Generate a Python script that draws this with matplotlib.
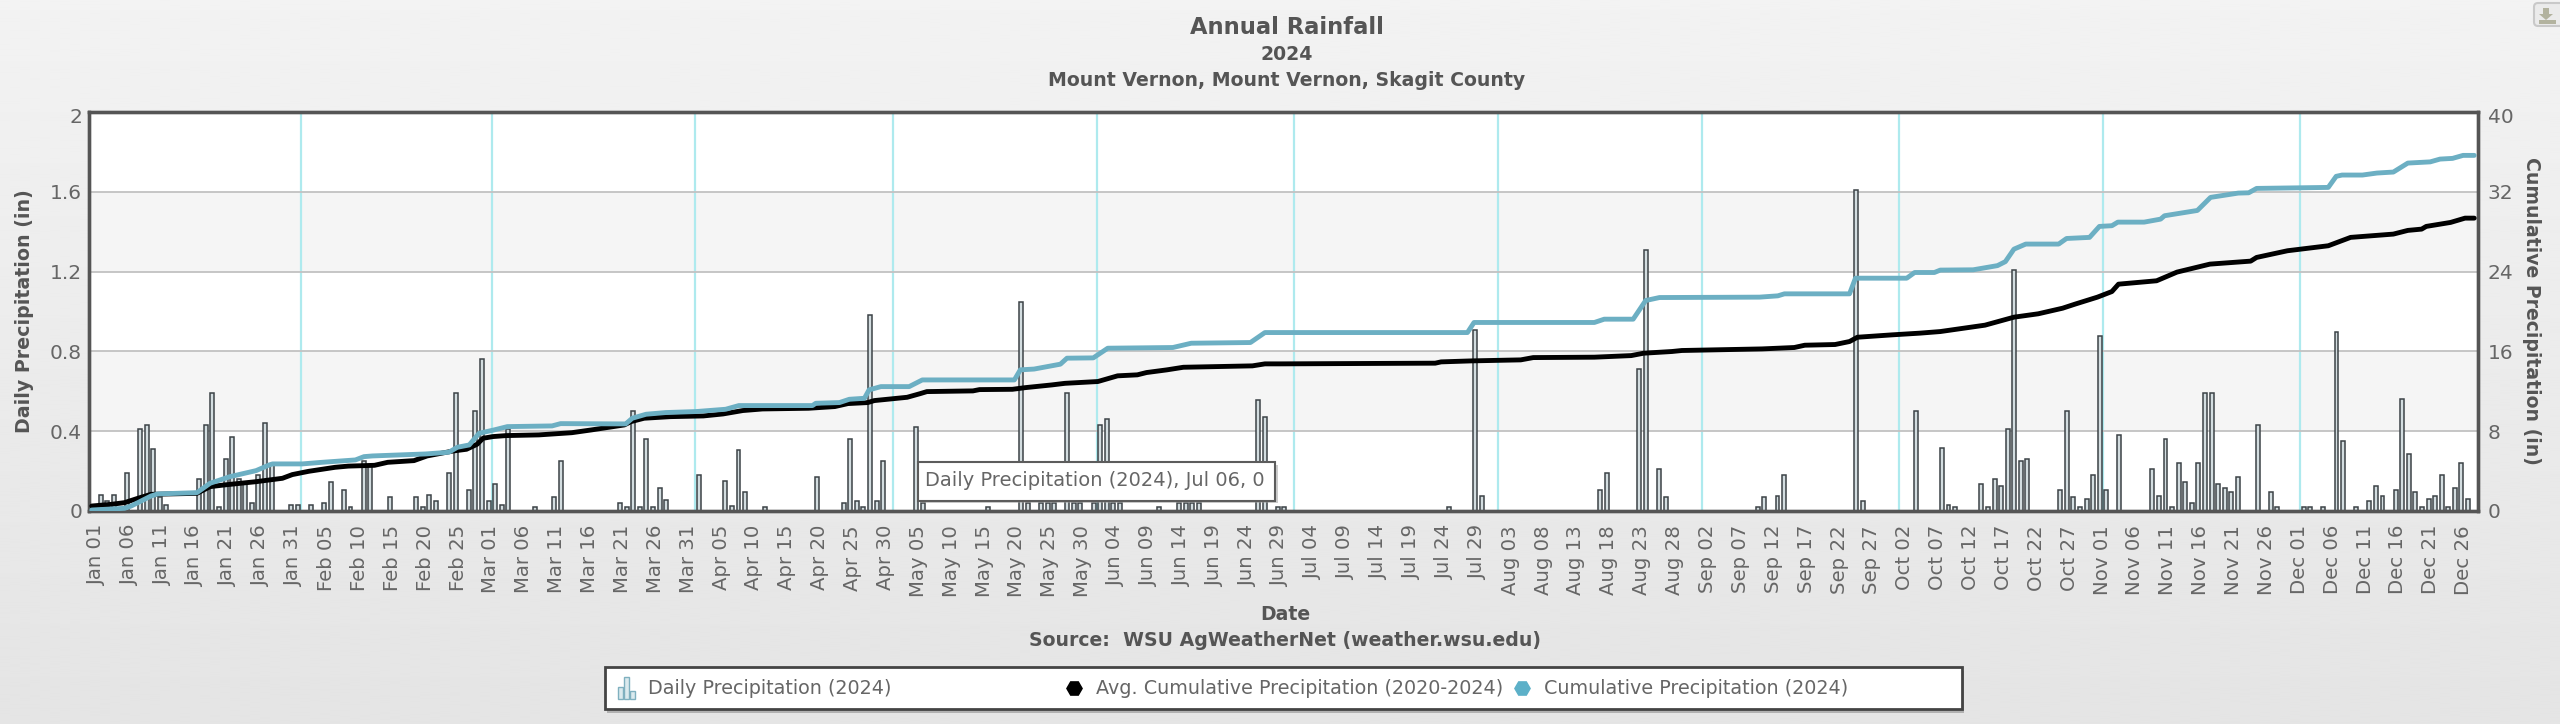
"""Annual rainfall chart, Mount Vernon 2024 (daily bars + cumulative lines)."""

import numpy as np
import matplotlib
matplotlib.use("Agg")
import matplotlib.pyplot as plt
from matplotlib.patches import Rectangle, FancyBboxPatch, Polygon
from matplotlib.transforms import ScaledTranslation

# tick labels, one every 5 days starting Jan 01
tick_labels = [
    "Jan 01", "Jan 06", "Jan 11", "Jan 16", "Jan 21", "Jan 26", "Jan 31",
    "Feb 05", "Feb 10", "Feb 15", "Feb 20", "Feb 25",
    "Mar 01", "Mar 06", "Mar 11", "Mar 16", "Mar 21", "Mar 26", "Mar 31",
    "Apr 05", "Apr 10", "Apr 15", "Apr 20", "Apr 25", "Apr 30",
    "May 05", "May 10", "May 15", "May 20", "May 25", "May 30",
    "Jun 04", "Jun 09", "Jun 14", "Jun 19", "Jun 24", "Jun 29",
    "Jul 04", "Jul 09", "Jul 14", "Jul 19", "Jul 24", "Jul 29",
    "Aug 03", "Aug 08", "Aug 13", "Aug 18", "Aug 23", "Aug 28",
    "Sep 02", "Sep 07", "Sep 12", "Sep 17", "Sep 22", "Sep 27",
    "Oct 02", "Oct 07", "Oct 12", "Oct 17", "Oct 22", "Oct 27",
    "Nov 01", "Nov 06", "Nov 11", "Nov 16", "Nov 21", "Nov 26",
    "Dec 01", "Dec 06", "Dec 11", "Dec 16", "Dec 21", "Dec 26",
]

# first of each month, as day of year (0 = Jan 01)
month_starts = [31, 60, 91, 121, 152, 182, 213, 244, 274, 305, 335]

# daily precipitation: only the days with rain
rain_days = [
    0, 1, 2, 4, 6, 7, 8, 9, 10, 15, 16, 17, 18, 19, 20, 21, 22, 23, 24, 25, 26,
    29, 30, 32, 34, 35, 37, 38, 40, 41, 44, 48, 49, 50, 51, 53, 54, 56, 57, 58,
    59, 60, 61, 62, 66, 69, 70, 79, 80, 81, 82, 83, 84, 85, 86, 91, 95, 96, 97,
    98, 101, 109, 113, 114, 115, 116, 117, 118, 119, 124, 125, 135, 140, 141,
    143, 144, 145, 147, 148, 149, 151, 152, 153, 154, 155, 161, 164, 165, 166,
    167, 176, 177, 179, 180, 205, 209, 210, 228, 229, 234, 235, 237, 238, 252,
    253, 255, 256, 267, 268, 276, 280, 281, 282, 286, 287, 288, 289, 290, 291,
    292, 293, 298, 299, 300, 301, 302, 303, 304, 305, 307, 312, 313, 314, 315,
    316, 317, 318, 319, 320, 321, 322, 323, 324, 325, 328, 330, 331, 335, 336,
    338, 340, 341, 343, 345, 346, 347, 349, 350, 351, 352, 353, 354, 355, 356,
    357, 358, 359, 360,
]
rain_inches = [
    .08, .05, .08, .19, .41, .43, .31, .07, .03, .16, .43, .59, .02, .26, .37, .16, .135, .04, .18, .44, .23,
    .03, .03, .03, .04, .144, .105, .02, .25, .23, .07, .07, .02, .08, .05, .19, .59, .105, .50, .76,
    .05, .134, .03, .41, .02, .07, .25, .04, .02, .50, .02, .36, .02, .115, .057, .18, .15, .027, .305,
    .097, .02, .17, .04, .36, .05, .02, .98, .05, .25, .42, .04, .02, 1.05, .04,
    .04, .04, .04, .59, .04, .04, .04, .43, .46, .04, .04, .02, .04, .04, .04,
    .04, .555, .47, .02, .02, .02, .907, .077, .105, .19, .71, 1.31, .21, .07, .02,
    .07, .077, .18, 1.61, .05, .50, .315, .03, .02, .135, .02, .16, .125, .41, 1.21,
    .25, .26, .105, .50, .07, .02, .06, .18, .877, .105, .38, .21, .077, .36, .02,
    .24, .144, .04, .24, .59, .59, .135, .115, .097, .17, .43, .097, .02, .02, .02,
    .02, .897, .353, .02, .05, .125, .077, .105, .56, .286, .097, .02, .06, .077, .18,
    .02, .115, .24, .06,
]

# 5-year average cumulative precipitation, read at its bends
avg_days = [
    0, 3, 5, 7, 9, 16, 18, 20, 25, 29, 30.5, 33, 37, 39, 43, 45, 49, 51, 55, 57,
    58.6, 59.5, 61, 63, 68, 73, 76, 81, 82, 84, 88, 93, 96, 99, 102, 109, 113,
    115, 118, 119, 124, 126, 127, 134, 135, 140, 142, 146, 148, 153, 156, 159,
    160.4, 163.5, 166, 176.5, 178.4, 180.7, 204.3, 205.2, 209.9, 217.3, 219.2,
    228.5, 234.1, 236, 240.3, 241.8, 254, 258.9, 260.5, 265.1, 267.3, 268.5,
    273.8, 278, 281.1, 287.9, 292.3, 296, 299.7, 301.6, 305, 307.2, 308.2, 314,
    317.1, 322.1, 328.3, 329.2, 333.9, 340.1, 343.5, 350, 352.2, 354.3, 355,
    358.7, 360.9, 362.3,
]
avg_cumulative = [
    .5, .67, .84, 1.27, 1.67, 1.77, 2.44, 2.6, 2.94, 3.28, 3.65, 3.98, 4.38, 4.5, 4.58, 4.88, 5.05, 5.52, 6.02, 6.19,
    6.69, 7.29, 7.46, 7.56, 7.63, 7.85, 8.13, 8.63, 8.96, 9.30, 9.46, 9.53, 9.73, 10.07, 10.23, 10.3, 10.47,
    10.77, 10.87, 11.07, 11.4, 11.77, 11.97, 12.04, 12.17, 12.2, 12.37, 12.64, 12.8, 12.98, 13.55, 13.65,
    13.88, 14.15, 14.41, 14.55, 14.75, 14.75, 14.82, 14.95, 15.05, 15.15, 15.38,
    15.42, 15.58, 15.82, 15.99, 16.09, 16.25, 16.39, 16.62, 16.69, 16.99, 17.42,
    17.66, 17.83, 17.99, 18.63, 19.43, 19.77, 20.33, 20.74, 21.44, 22.0, 22.74, 23.08,
    23.95, 24.75, 25.05, 25.42, 26.09, 26.59, 27.43, 27.76, 28.13, 28.26, 28.53,
    28.93, 29.36, 29.36,
]

# 2024 cumulative precipitation, read at its bends
cum_days = [
    0, 5, 6, 9, 10, 16, 18, 21, 25, 27, 27.5, 32, 35, 40.1, 41.4, 42.7, 50.8, 54.3,
    55.6, 57.4, 58.9, 61.2, 63.2, 70, 71.3, 81.2, 82.2, 84.3, 87.3, 91.9, 96.4,
    98.4, 109.6, 110.1, 113.7, 115.2, 117.5, 118.2, 120, 124.3, 126.3, 140.3, 141.2,
    143.3, 147.3, 148.3, 152.3, 154.5, 164.4, 167.2, 176.2, 178.4, 209.2, 210.2,
    228.5, 230, 234.4, 236.3, 238.4, 253.6, 256.4, 257.4, 267.3, 268.2, 276, 277.2,
    280.2, 281.1, 286.1, 289.8, 291, 292.3, 294.1, 299.1, 300.3, 303.8, 305.3,
    307.2, 308.1, 312.1, 314.6, 315.2, 320.2, 322.2, 326.4, 328, 329.2, 340.1,
    341.3, 342.2, 345.3, 347.5, 350, 352.2, 355.6, 357.1, 359, 360.6, 362.3,
]
cum_2024 = [
    .1, .27, .5, 1.5, 1.71, 1.84, 2.78, 3.44, 4.05, 4.62, 4.72, 4.72, 4.88, 5.12, 5.45, 5.52, 5.72, 5.89,
    6.39, 6.62, 7.79, 8.13, 8.46, 8.53, 8.76, 8.73, 9.3, 9.7, 9.87, 9.97, 10.2,
    10.57, 10.57, 10.8, 10.87, 11.2, 11.3, 12.14, 12.47, 12.47, 13.14, 13.14, 14.15,
    14.23, 14.72, 15.32, 15.35, 16.32, 16.39, 16.82, 16.89, 17.89, 17.89, 18.9,
    18.9, 19.23, 19.23, 21.1, 21.4, 21.44, 21.57, 21.77, 21.77, 23.34, 23.34, 23.91,
    23.91, 24.15, 24.18, 24.6, 25.0, 26.25, 26.76, 26.76, 27.32, 27.43, 28.53,
    28.6, 28.96, 28.96, 29.26, 29.6, 30.13, 31.44, 31.87, 31.9, 32.34, 32.44,
    33.55, 33.68, 33.68, 33.88, 33.98, 34.88, 35.0, 35.28, 35.35, 35.65, 35.65,
]

W, H = 2560, 724
TEXT = "#666666"
HEAD = "#555555"
BLUE = "#6cafc3"

fig = plt.figure(figsize=(W / 100, H / 100), dpi=100)

# page background: soft vertical gradient
bg = fig.add_axes([0, 0, 1, 1], zorder=0)
bg.imshow(np.linspace(0.95, 0.895, 256).reshape(-1, 1), cmap="gray", vmin=0, vmax=1,
          aspect="auto", extent=[0, W, H, 0])
bg.set_xlim(0, W)
bg.set_ylim(H, 0)
bg.axis("off")

# plot area, pixel box 89..2478 x 112..511
ax = fig.add_axes([89 / W, 1 - 511 / H, (2478 - 89) / W, (511 - 112) / H], zorder=1)
ax.set_xlim(-1.217, 362.07)
ax.set_ylim(0, 2)
ax.set_facecolor("white")

# alternating bands
for lo in (0.4, 1.2):
    ax.axhspan(lo, lo + 0.4, facecolor="#f5f5f5", edgecolor="none", zorder=0)
ax.set_yticks([0, 0.4, 0.8, 1.2, 1.6, 2.0], ["0", "0.4", "0.8", "1.2", "1.6", "2"])
ax.grid(axis="y", color="#c2c2c2", linewidth=1.3, zorder=1)
for d in month_starts:
    ax.axvline(d, color="#aeeaee", linewidth=1.6, zorder=1)

# bars sit a little right of the day slot, lines a little left (as in the original)
ax.bar(np.array(rain_days) + 0.55, rain_inches, width=0.6, facecolor="#d3dde0",
       edgecolor="#3c4347", linewidth=1.1, zorder=2)

ax2 = ax.twinx()
ax2.set_ylim(0, 40)
ax2.set_yticks([0, 8, 16, 24, 32, 40])
ax2.plot(np.array(avg_days) - 0.8, avg_cumulative, color="black", linewidth=3.5,
         solid_capstyle="round", zorder=3)
ax2.plot(np.array(cum_days) - 0.8, cum_2024, color=BLUE, linewidth=3.5,
         solid_capstyle="round", zorder=4)

for a in (ax, ax2):
    for side in a.spines.values():
        side.set_color("#555555")
        side.set_linewidth(2.4)

ax.set_xticks(np.arange(len(tick_labels)) * 5 - 0.1, tick_labels, rotation=90,
              fontsize=14.2, color=TEXT)
ax.tick_params(axis="x", length=0, pad=10)
ax.tick_params(axis="y", length=0, pad=5, labelsize=14.5, labelcolor=TEXT)
ax2.tick_params(axis="y", length=0, pad=7, labelsize=14.5, labelcolor=TEXT)

# the top labels are pushed down a bit so they stay under the frame
nudge = ScaledTranslation(0, -3.5 / 72 * 0.72, fig.dpi_scale_trans)
for lab in (ax.get_yticklabels()[-1], ax2.get_yticklabels()[-1]):
    lab.set_transform(lab.get_transform() + nudge)

# overlay in pixel coordinates for titles, tooltip and legend
top = fig.add_axes([0, 0, 1, 1], zorder=5)
top.set_xlim(0, W)
top.set_ylim(H, 0)
top.axis("off")
top.patch.set_alpha(0)

top.text(1287, 27, "Annual Rainfall", ha="center", va="center", fontsize=16.3,
         fontweight="bold", color=HEAD)
top.text(1287, 55, "2024", ha="center", va="center", fontsize=13.6,
         fontweight="bold", color=HEAD)
top.text(1287, 81, "Mount Vernon, Mount Vernon, Skagit County", ha="center", va="center",
         fontsize=13.55, fontweight="bold", color=HEAD)
top.text(1285, 614, "Date", ha="center", va="center", fontsize=13.6,
         fontweight="bold", color=HEAD)
top.text(1285, 640, "Source:  WSU AgWeatherNet (weather.wsu.edu)", ha="center", va="center",
         fontsize=13.6, fontweight="bold", color=HEAD)
top.text(25, 311, "Daily Precipitation (in)", rotation=90, ha="center", va="center",
         fontsize=13.7, fontweight="bold", color=HEAD)
top.text(2531, 311, "Cumulative Precipitation (in)", rotation=270, ha="center", va="center",
         fontsize=13.6, fontweight="bold", color=HEAD)

# tooltip left on the screenshot
top.add_patch(Rectangle((921, 465), 357, 38, facecolor="#9a9a9a", alpha=0.5, edgecolor="none"))
top.add_patch(Rectangle((918, 462), 357, 38.5, facecolor="white", edgecolor="#5c5c5c", linewidth=1.5))
top.text(925, 481, "Daily Precipitation (2024), Jul 06, 0", ha="left", va="center",
         fontsize=14, color=TEXT)

# legend box
top.add_patch(Rectangle((607, 671), 1357, 42, facecolor="#8f8f8f", alpha=0.6, edgecolor="none"))
top.add_patch(Rectangle((605, 667), 1357, 42, facecolor="white", edgecolor="#444444", linewidth=2))
for x0, h in ((618, 12), (624, 22), (630, 8)):
    top.add_patch(Rectangle((x0, 699 - h), 5, h, facecolor="#dbeaee", edgecolor="#7fb0bf", linewidth=1))
top.text(648, 688, "Daily Precipitation (2024)", ha="left", va="center", fontsize=13.75, color=TEXT)
top.plot([1074], [688], marker="H", color="black", markersize=11)
top.text(1096, 688, "Avg. Cumulative Precipitation (2020-2024)", ha="left", va="center",
         fontsize=13.75, color=TEXT)
top.plot([1522], [688], marker="H", color="#5cb0c8", markersize=11)
top.text(1544, 688, "Cumulative Precipitation (2024)", ha="left", va="center", fontsize=13.75, color=TEXT)

# export button, top right corner
top.add_patch(FancyBboxPatch((2534, 3), 30, 23, boxstyle="round,pad=0,rounding_size=4",
                             facecolor="#ebebeb", edgecolor="#c9c9c9", linewidth=1.5))
top.add_patch(Polygon([[2543, 8], [2549, 8], [2549, 14], [2553, 14], [2546, 20], [2539, 14], [2543, 14]],
                      facecolor="#b3b39f", edgecolor="none"))
top.add_patch(Rectangle((2539, 20), 17, 4, facecolor="#b3b39f", edgecolor="none"))

fig.savefig("out.png", dpi=100)
